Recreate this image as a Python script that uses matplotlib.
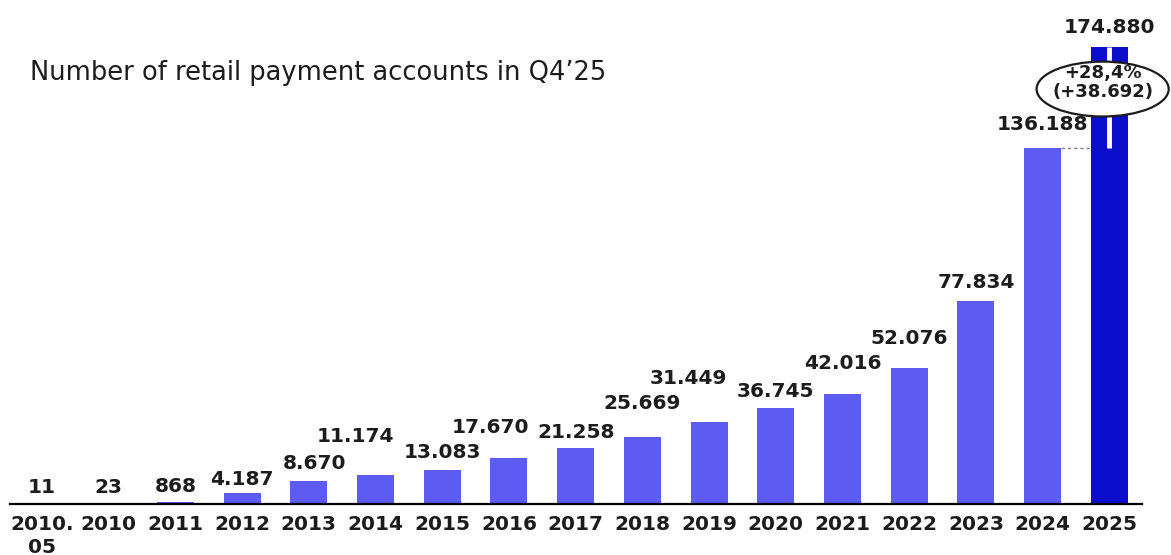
import matplotlib
matplotlib.use("Agg")
import matplotlib.pyplot as plt
from matplotlib.patches import Ellipse

# accounts per period (end of year, first point is May 2010)
periods = ["2010.\n05", "2010", "2011", "2012", "2013", "2014", "2015", "2016",
           "2017", "2018", "2019", "2020", "2021", "2022", "2023", "2024", "2025"]
accounts = [11, 23, 868, 4187, 8670, 11174, 13083, 17670, 21258, 25669,
            31449, 36745, 42016, 52076, 77834, 136188, 174880]
title = "Number of retail payment accounts in Q4\u201925"

# value label nudges in pixels (dx, dy above the bar top) to keep labels apart
label_dx = [0, 0, 0, 0, 6, -20, 0, -19, 0, 0, -21, 0, 0, 0, 0, 0, 0]
label_dy = [16, 16, 15, 14, 18, 38, 17, 30, 16, 33, 43, 16, 31, 29, 18, 23, 19]

BAR = "#5C5CF2"
BAR_LAST = "#0D0DCC"
INK = "#1c1c1c"


def fmt(v):
    return "{:,}".format(v).replace(",", ".")


fig = plt.figure(figsize=(11.71, 5.55), dpi=100)
fig.patch.set_facecolor("white")
ax = fig.add_axes([10 / 1171, 51 / 555, 1132 / 1171, 504 / 555])

x = list(range(len(periods)))
colors = [BAR] * (len(x) - 1) + [BAR_LAST]
ax.bar(x, accounts, width=0.555, color=colors, zorder=2)

ax.set_xlim(-0.48, 16.49)
ax.set_ylim(0, 192800)

for i, v in enumerate(accounts):
    ax.annotate(fmt(v), (i + label_dx[i] / 66.7, v),
                xytext=(0, label_dy[i]), textcoords="offset pixels",
                ha="center", va="center", fontsize=14.5, fontweight="bold",
                color=INK, zorder=5, annotation_clip=False)

# growth marker on the last bar
prev, last = accounts[-2], accounts[-1]
n = len(accounts) - 1
ax.hlines(prev, n - 1 + 0.28, n - 0.28, colors="#888888",
          linestyles=(0, (2.5, 2)), lw=1, zorder=3)
ax.vlines(n, prev, last, colors="white", lw=3.5, zorder=3)
cy = (prev + last) / 2 + 3200
ell = Ellipse((n - 0.1, cy), width=1.98, height=21000, facecolor="white",
              edgecolor=INK, lw=1.6, zorder=4, clip_on=False)
ax.add_patch(ell)
growth = (last / prev - 1) * 100
ax.text(n - 0.1, cy + 6100, "+{:.1f}%".format(growth).replace(".", ","),
        ha="center", va="center", fontsize=13, fontweight="bold",
        color=INK, zorder=5, clip_on=False)
ax.text(n - 0.1, cy - 1150, "(+{})".format(fmt(last - prev)),
        ha="center", va="center", fontsize=13, fontweight="bold",
        color=INK, zorder=5, clip_on=False)

ax.set_xticks(x)
ax.set_xticklabels(periods, fontsize=14.5, fontweight="bold", color=INK,
                   linespacing=1.25)
ax.tick_params(axis="x", length=0, pad=8)
ax.set_yticks([])
for side in ["top", "left", "right"]:
    ax.spines[side].set_visible(False)
ax.spines["bottom"].set_linewidth(1.6)
ax.spines["bottom"].set_color("black")

fig.text(30 / 1171, 1 - 73 / 555, title, fontsize=18.5, color=INK,
         ha="left", va="center")

fig.savefig("out.png", dpi=100, facecolor="white")
